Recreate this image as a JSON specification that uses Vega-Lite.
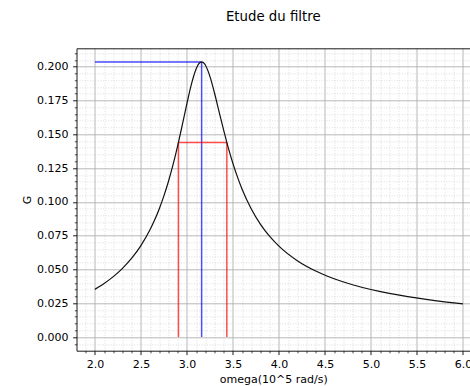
{
  "$schema": "https://vega.github.io/schema/vega-lite/v6.json",
  "autosize": "none",
  "width": 393.5,
  "height": 302.4,
  "padding": {"left": 76.5, "top": 48.3, "right": 0, "bottom": 35.3},
  "background": "white",
  "title": {"text": "Etude du filtre", "font": "DejaVu Sans", "fontSize": 13.3, "fontWeight": "normal", "color": "black", "anchor": "middle", "frame": "group", "baseline": "alphabetic", "offset": 14.5},
  "config": {
    "font": "DejaVu Sans",
    "view": {"stroke": null},
    "axis": {"labelFont": "DejaVu Sans", "titleFont": "DejaVu Sans", "zindex": 0}
  },
  "datasets": {
    "curve": [
      {"w": 2.0, "G": 0.03527},
      {"w": 2.1, "G": 0.03960},
      {"w": 2.2, "G": 0.04470},
      {"w": 2.3, "G": 0.05083},
      {"w": 2.4, "G": 0.05832},
      {"w": 2.5, "G": 0.06765},
      {"w": 2.6, "G": 0.07952},
      {"w": 2.65, "G": 0.08672},
      {"w": 2.7, "G": 0.09495},
      {"w": 2.75, "G": 0.10441},
      {"w": 2.8, "G": 0.11527},
      {"w": 2.85, "G": 0.12767},
      {"w": 2.9, "G": 0.14164},
      {"w": 2.95, "G": 0.15690},
      {"w": 3.0, "G": 0.17266},
      {"w": 3.05, "G": 0.18727},
      {"w": 3.1, "G": 0.19832},
      {"w": 3.13, "G": 0.20218},
      {"w": 3.16, "G": 0.2035},
      {"w": 3.19, "G": 0.20221},
      {"w": 3.2, "G": 0.20122},
      {"w": 3.25, "G": 0.19284},
      {"w": 3.3, "G": 0.18053},
      {"w": 3.35, "G": 0.16663},
      {"w": 3.4, "G": 0.15283},
      {"w": 3.45, "G": 0.14000},
      {"w": 3.5, "G": 0.12848},
      {"w": 3.55, "G": 0.11830},
      {"w": 3.6, "G": 0.10939},
      {"w": 3.7, "G": 0.09474},
      {"w": 3.8, "G": 0.08340},
      {"w": 3.9, "G": 0.07446},
      {"w": 4.0, "G": 0.06727},
      {"w": 4.2, "G": 0.05650},
      {"w": 4.4, "G": 0.04884},
      {"w": 4.6, "G": 0.04312},
      {"w": 4.8, "G": 0.03869},
      {"w": 5.0, "G": 0.03515},
      {"w": 5.2, "G": 0.03227},
      {"w": 5.4, "G": 0.02986},
      {"w": 5.6, "G": 0.02782},
      {"w": 5.8, "G": 0.02606},
      {"w": 6.0, "G": 0.02454}
    ],
    "guides": [
      {"kind": "max", "x1": 2.0, "x2": 3.16, "y1": 0.2035, "y2": 0.2035},
      {"kind": "max", "x1": 3.16, "x2": 3.16, "y1": 0.0, "y2": 0.2035},
      {"kind": "half", "x1": 2.908, "x2": 3.434, "y1": 0.1439, "y2": 0.1439},
      {"kind": "half", "x1": 2.908, "x2": 2.908, "y1": 0.0, "y2": 0.1439},
      {"kind": "half", "x1": 3.434, "x2": 3.434, "y1": 0.0, "y2": 0.1439}
    ]
  },
  "resolve": {"axis": {"x": "independent", "y": "independent"}},
  "layer": [
    {
      "data": {"name": "guides"},
      "mark": {"type": "rule", "strokeWidth": 1.5, "opacity": 0.7},
      "encoding": {
        "x": {"field": "x1", "type": "quantitative", "scale": {"domain": [1.8, 6.077], "nice": false, "zero": false},
          "axis": {"orient": "bottom", "values": [1.9, 2.1, 2.2, 2.3, 2.4, 2.6, 2.7, 2.8, 2.9, 3.1, 3.2, 3.3, 3.4, 3.6, 3.7, 3.8, 3.9, 4.1, 4.2, 4.3, 4.4, 4.6, 4.7, 4.8, 4.9, 5.1, 5.2, 5.3, 5.4, 5.6, 5.7, 5.8, 5.9],
            "grid": true, "gridColor": "#cfcfcf", "gridDash": [1, 1.6], "gridWidth": 0.7,
            "ticks": true, "tickSize": 2.2, "tickWidth": 0.7, "tickColor": "black",
            "labels": false, "domain": false, "title": null}},
        "x2": {"field": "x2"},
        "y": {"field": "y1", "type": "quantitative", "scale": {"domain": [-0.0101, 0.2136], "nice": false, "zero": false},
          "axis": {"orient": "left", "values": [-0.005, 0.005, 0.01, 0.015, 0.02, 0.03, 0.035, 0.04, 0.045, 0.055, 0.06, 0.065, 0.07, 0.08, 0.085, 0.09, 0.095, 0.105, 0.11, 0.115, 0.12, 0.13, 0.135, 0.14, 0.145, 0.155, 0.16, 0.165, 0.17, 0.18, 0.185, 0.19, 0.195, 0.205, 0.21],
            "grid": true, "gridColor": "#cfcfcf", "gridDash": [1, 1.6], "gridWidth": 0.7,
            "ticks": true, "tickSize": 2.2, "tickWidth": 0.7, "tickColor": "black",
            "labels": false, "domain": false, "title": null}},
        "y2": {"field": "y2"},
        "color": {"field": "kind", "type": "nominal", "scale": {"domain": ["max", "half"], "range": ["#0000ff", "#ff0000"]}, "legend": null}
      }
    },
    {
      "data": {"name": "curve"},
      "mark": {"type": "line", "color": "#111111", "strokeWidth": 1.2, "interpolate": "monotone"},
      "encoding": {
        "x": {"field": "w", "type": "quantitative", "scale": {"domain": [1.8, 6.077], "nice": false, "zero": false},
          "axis": {"orient": "bottom", "values": [2.0, 2.5, 3.0, 3.5, 4.0, 4.5, 5.0, 5.5, 6.0], "format": ".1f",
            "grid": true, "gridColor": "#b0b0b0", "gridWidth": 0.9,
            "ticks": true, "tickSize": 3.9, "tickWidth": 0.9, "tickColor": "black",
            "labels": true, "labelFontSize": 11, "labelColor": "black", "labelPadding": 3.5, "labelFlush": false, "labelOverlap": false,
            "domain": true, "domainColor": "black", "domainWidth": 0.9,
            "title": "omega(10^5 rad/s)", "titleFontSize": 11, "titleFontWeight": "normal", "titleColor": "black", "titlePadding": 4}},
        "y": {"field": "G", "type": "quantitative", "scale": {"domain": [-0.0101, 0.2136], "nice": false, "zero": false},
          "axis": {"orient": "left", "values": [0.0, 0.025, 0.05, 0.075, 0.1, 0.125, 0.15, 0.175, 0.2], "format": ".3f",
            "grid": true, "gridColor": "#b0b0b0", "gridWidth": 0.9,
            "ticks": true, "tickSize": 3.9, "tickWidth": 0.9, "tickColor": "black",
            "labels": true, "labelFontSize": 11, "labelColor": "black", "labelPadding": 4.5, "labelOverlap": false,
            "domain": true, "domainColor": "black", "domainWidth": 0.9,
            "title": "G", "titleFontSize": 11, "titleFontWeight": "normal", "titleColor": "black", "titlePadding": 4}}
      }
    },
    {
      "data": {"name": "curve"},
      "mark": {"type": "point", "opacity": 0},
      "encoding": {
        "x": {"field": "w", "type": "quantitative", "scale": {"domain": [1.8, 6.077], "nice": false, "zero": false},
          "axis": {"orient": "top", "domain": true, "domainColor": "black", "domainWidth": 0.9, "ticks": false, "labels": false, "grid": false, "title": null}},
        "y": {"field": "G", "type": "quantitative", "scale": {"domain": [-0.0101, 0.2136], "nice": false, "zero": false}, "axis": null}
      }
    }
  ]
}
